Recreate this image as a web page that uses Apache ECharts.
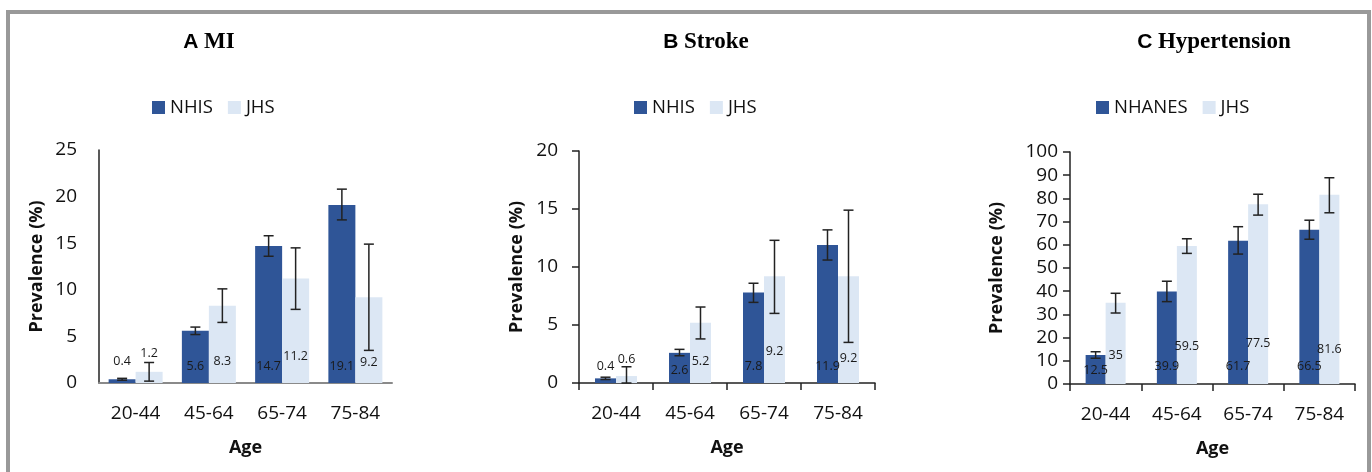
<!DOCTYPE html>
<html>
<head>
<meta charset="utf-8">
<script src="https://cdn.jsdelivr.net/npm/echarts@6/dist/echarts.min.js"></script>
<style>
html,body{margin:0;padding:0;background:#fff;}
#chart{width:1372px;height:472px;}
</style>
</head>
<body>
<div id="chart"></div>
<script>
// ---------- DATA ----------
const ageGroups = ['20-44', '45-64', '65-74', '75-84'];

// A: MI
const miNhis      = [0.4, 5.6, 14.7, 19.1];
const miNhisLow   = [0.3, 5.2, 13.6, 17.5];
const miNhisHigh  = [0.5, 6.0, 15.8, 20.8];
const miJhs       = [1.2, 8.3, 11.2, 9.2];
const miJhsLow    = [0.2, 6.5, 7.9, 3.5];
const miJhsHigh   = [2.2, 10.1, 14.5, 14.9];

// B: Stroke
const strokeNhis     = [0.4, 2.6, 7.8, 11.9];
const strokeNhisLow  = [0.3, 2.35, 6.95, 10.6];
const strokeNhisHigh = [0.5, 2.9, 8.6, 13.2];
const strokeJhs      = [0.6, 5.2, 9.2, 9.2];
const strokeJhsLow   = [0.0, 3.8, 6.0, 3.5];
const strokeJhsHigh  = [1.4, 6.55, 12.3, 14.9];

// C: Hypertension
const htnNhanes     = [12.5, 39.9, 61.7, 66.5];
const htnNhanesLow  = [11.1, 35.5, 56.0, 62.4];
const htnNhanesHigh = [13.9, 44.3, 67.8, 70.6];
const htnJhs        = [35, 59.5, 77.5, 81.6];
const htnJhsLow     = [30.6, 56.3, 72.8, 73.8];
const htnJhsHigh    = [39.1, 62.6, 81.8, 88.9];

// ---------- LAYOUT (pixel lifts of the value labels above the baseline) ----------
const liftA = { dark: [22, 17, 17, 17], light: [30, 22, 27, 21] };
const liftB = { dark: [17, 13, 17, 17], light: [24, 22, 32, 25] };
const liftC = { dark: [14, 18, 18, 18], light: [29, 38, 41, 35] };

const DARK = '#2F5597';
const LIGHT = '#DCE7F4';
const FONT = 'Open Sans';
const TXT = '#111';

const panels = [
  { title: ['A', 'MI'], cx: 209, legendLeft: 147, names: ['NHIS', 'JHS'],
    grid: { left: 99, top: 150, width: 293, height: 233 }, max: 25, interval: 5,
    barW: 27, dark: miNhis, darkLo: miNhisLow, darkHi: miNhisHigh,
    light: miJhs, lightLo: miJhsLow, lightHi: miJhsHigh, lift: liftA,
    ticks: false, xColor: '#8a8a8a', labelMargin: 22, yNameGap: 53 },
  { title: ['B', 'Stroke'], cx: 706, legendLeft: 629, names: ['NHIS', 'JHS'],
    grid: { left: 579, top: 151, width: 296, height: 232 }, max: 20, interval: 5,
    barW: 21, dark: strokeNhis, darkLo: strokeNhisLow, darkHi: strokeNhisHigh,
    light: strokeJhs, lightLo: strokeJhsLow, lightHi: strokeJhsHigh, lift: liftB,
    ticks: true, xColor: '#222', labelMargin: 21, yNameGap: 53 },
  { title: ['C', 'Hypertension'], cx: 1214, legendLeft: 1091, names: ['NHANES', 'JHS'],
    grid: { left: 1070, top: 152, width: 285, height: 232 }, max: 100, interval: 10,
    barW: 20, dark: htnNhanes, darkLo: htnNhanesLow, darkHi: htnNhanesHigh,
    light: htnJhs, lightLo: htnJhsLow, lightHi: htnJhsHigh, lift: liftC,
    ticks: true, xColor: '#222', labelMargin: 12, yNameGap: 64 }
];

const option = {
  animation: false,
  backgroundColor: '#fff',
  grid: [], xAxis: [], yAxis: [], legend: [], series: [],
  graphic: [
    { type: 'rect', shape: { x: 8, y: 12, width: 1361, height: 480 },
      style: { fill: 'none', stroke: '#999', lineWidth: 4 }, z: 100 }
  ]
};

function errorSeries(p, idx, lo, hi, offset) {
  return {
    type: 'custom', xAxisIndex: idx, yAxisIndex: idx, z: 5, silent: true,
    data: ageGroups.map((g, i) => [i, lo[i], hi[i]]),
    encode: { x: 0, y: [1, 2] },
    renderItem: function (params, api) {
      const a = api.coord([api.value(0), api.value(1)]);
      const b = api.coord([api.value(0), api.value(2)]);
      const x = a[0] + offset;
      const st = { stroke: '#222', lineWidth: 1.5 };
      return { type: 'group', children: [
        { type: 'line', shape: { x1: x, y1: a[1], x2: x, y2: b[1] }, style: st },
        { type: 'line', shape: { x1: x - 5, y1: a[1], x2: x + 5, y2: a[1] }, style: st },
        { type: 'line', shape: { x1: x - 5, y1: b[1], x2: x + 5, y2: b[1] }, style: st }
      ]};
    }
  };
}

function labelSeries(p, idx, vals, lifts, offset) {
  return {
    type: 'custom', xAxisIndex: idx, yAxisIndex: idx, z: 6, silent: true,
    data: vals.map((v, i) => [i, v, lifts[i]]),
    encode: { x: 0, y: 1 },
    renderItem: function (params, api) {
      const base = api.coord([api.value(0), 0]);
      return { type: 'text', x: base[0] + offset, y: base[1] - api.value(2),
        style: { text: String(vals[params.dataIndex]), fontSize: 12.5, fontFamily: FONT,
          fill: '#1a1a1a', align: 'center', verticalAlign: 'middle' } };
    }
  };
}

panels.forEach((p, idx) => {
  option.grid.push(p.grid);
  option.xAxis.push({
    type: 'category', gridIndex: idx, data: ageGroups,
    name: 'Age', nameLocation: 'middle', nameGap: 56,
    nameTextStyle: { fontFamily: FONT, fontSize: 18, fontWeight: 'bold', color: TXT },
    axisLine: { lineStyle: { color: p.xColor, width: p.ticks ? 1.5 : 2 } },
    axisTick: { show: p.ticks, length: 7, alignWithLabel: false, lineStyle: { color: '#222', width: 1.5 } },
    axisLabel: { fontFamily: FONT, fontSize: 19, color: TXT, margin: 21, interval: 0 },
    splitLine: { show: false }
  });
  option.yAxis.push({
    type: 'value', gridIndex: idx, min: 0, max: p.max, interval: p.interval,
    name: 'Prevalence (%)', nameLocation: 'middle', nameGap: p.yNameGap,
    nameTextStyle: { fontFamily: FONT, fontSize: 18, fontWeight: 'bold', color: TXT },
    axisLine: { show: true, lineStyle: { color: '#222', width: 1.5 } },
    axisTick: { show: p.ticks, length: 7, lineStyle: { color: '#222', width: 1.5 } },
    axisLabel: { fontFamily: FONT, fontSize: 19, color: TXT, margin: p.labelMargin },
    splitLine: { show: false }
  });
  option.legend.push({
    left: p.legendLeft, top: 93, itemWidth: 13, itemHeight: 13, itemGap: 15,
    icon: 'rect', data: p.names,
    textStyle: { fontFamily: FONT, fontSize: 18.5, color: TXT }
  });
  option.series.push({
    name: p.names[0], type: 'bar', xAxisIndex: idx, yAxisIndex: idx,
    data: p.dark, barWidth: p.barW, barGap: '0%', itemStyle: { color: DARK }
  });
  option.series.push({
    name: p.names[1], type: 'bar', xAxisIndex: idx, yAxisIndex: idx,
    data: p.light, barWidth: p.barW, barGap: '0%', itemStyle: { color: LIGHT }
  });
  const half = p.barW / 2;
  option.series.push(errorSeries(p, idx, p.darkLo, p.darkHi, -half));
  option.series.push(errorSeries(p, idx, p.lightLo, p.lightHi, half));
  option.series.push(labelSeries(p, idx, p.dark, p.lift.dark, -half));
  option.series.push(labelSeries(p, idx, p.light, p.lift.light, half));
  option.graphic.push({
    type: 'text', x: p.cx, y: 42, z: 50,
    style: {
      text: '{a|' + p.title[0] + '} {b|' + p.title[1] + '}',
      fontFamily: 'Liberation Serif', fontSize: 22, fontWeight: 'bold',
      align: 'center', verticalAlign: 'middle', fill: '#000',
      rich: {
        a: { fontFamily: 'Liberation Sans', fontSize: 21, fontWeight: 'bold', fill: '#000' },
        b: { fontFamily: 'Liberation Serif', fontSize: 23, fontWeight: 'bold', fill: '#000' }
      }
    }
  });
});

const chart = echarts.init(document.getElementById('chart'), null, { renderer: 'canvas' });
chart.setOption(option);
</script>
</body>
</html>
